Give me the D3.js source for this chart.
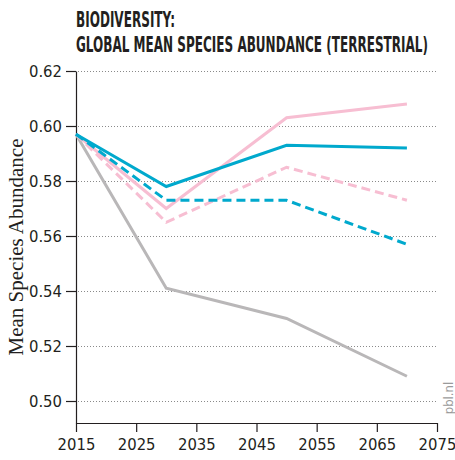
<!DOCTYPE html>
<html>
<head>
<meta charset="utf-8">
<script src="https://cdn.jsdelivr.net/npm/d3@7"></script>
<style>
  html, body { margin: 0; padding: 0; background: #fff; }
  svg { display: block; }
</style>
</head>
<body>
<svg id="chart" width="455" height="460"></svg>
<script>
// Scenario years and mean species abundance per scenario
const years = [2015, 2030, 2050, 2070];
const grayValues = [0.597, 0.541, 0.530, 0.509];
const pinkSolidValues = [0.597, 0.570, 0.603, 0.608];
const tealSolidValues = [0.597, 0.578, 0.593, 0.592];
const pinkDashedValues = [0.597, 0.565, 0.585, 0.573];
const tealDashedValues = [0.597, 0.573, 0.573, 0.557];

const xTicks = [2015, 2025, 2035, 2045, 2055, 2065, 2075];
const yTicks = [0.50, 0.52, 0.54, 0.56, 0.58, 0.60, 0.62];

const titleLines = ["BIODIVERSITY:", "GLOBAL MEAN SPECIES ABUNDANCE (TERRESTRIAL)"];
const yTitle = "Mean Species Abundance";
const credit = "pbl.nl";

const series = [
  { values: grayValues, color: "#b9b7b8", dash: null },
  { values: pinkSolidValues, color: "#f7bed2", dash: null },
  { values: pinkDashedValues, color: "#f7bed2", dash: "9,5" },
  { values: tealDashedValues, color: "#00a9cd", dash: "9,5" },
  { values: tealSolidValues, color: "#00a9cd", dash: null }
];

const svg = d3.select("#chart");
const margin = { left: 76, right: 18, top: 71, bottom: 37 };
const W = 455, H = 460;

const x = d3.scaleLinear().domain([2015, 2075]).range([margin.left, W - margin.right]);
const y = d3.scaleLinear().domain([0.492, 0.62]).range([H - margin.bottom, margin.top]);

const narrow = "'Liberation Sans Narrow', 'DejaVu Sans Condensed', sans-serif";

// Title: condensed bold caps, squeezed horizontally to the set widths
const titleSpec = [
  { text: titleLines[0], y: 27, width: 99 },
  { text: titleLines[1], y: 52, width: 352 }
];
titleSpec.forEach(t => {
  const g = svg.append("g");
  const txt = g.append("text")
    .attr("font-family", narrow)
    .attr("font-weight", "bold")
    .attr("font-size", 22)
    .attr("fill", "#231f20")
    .text(t.text);
  const natural = txt.node().getComputedTextLength();
  g.attr("transform", `translate(76,${t.y}) scale(${t.width / natural},1)`);
});

// Dotted gridlines
svg.append("g")
  .selectAll("line")
  .data(yTicks)
  .join("line")
  .attr("x1", x(2015) + 2)
  .attr("x2", x(2075))
  .attr("y1", d => Math.round(y(d)) + 0.5)
  .attr("y2", d => Math.round(y(d)) + 0.5)
  .attr("stroke", "#8a8a8a")
  .attr("stroke-width", 1)
  .attr("stroke-dasharray", "1,2");

// Axes
const yAxis = svg.append("g")
  .attr("transform", `translate(${margin.left},0)`)
  .call(d3.axisLeft(y).tickValues(yTicks).tickFormat(d3.format(".2f")).tickSize(10).tickSizeOuter(0).tickPadding(4));

const xAxis = svg.append("g")
  .attr("transform", `translate(0,${H - margin.bottom})`)
  .call(d3.axisBottom(x).tickValues(xTicks).tickFormat(d3.format("d")).tickSize(9).tickSizeOuter(0).tickPadding(6));

[yAxis, xAxis].forEach(g => {
  g.select(".domain").attr("stroke", "#231f20").attr("stroke-width", 1.2);
  g.selectAll(".tick line").attr("stroke", "#231f20").attr("stroke-width", 1.2);
  g.selectAll(".tick text")
    .attr("font-family", narrow)
    .attr("font-size", 16.5)
    .attr("fill", "#231f20");
});

// Y-axis title
svg.append("text")
  .attr("transform", `translate(23,${(margin.top + H - margin.bottom) / 2}) rotate(-90)`)
  .attr("text-anchor", "middle")
  .attr("font-family", "'Liberation Serif', 'DejaVu Serif', serif")
  .attr("font-size", 21)
  .attr("fill", "#231f20")
  .text(yTitle);

// Credit
svg.append("text")
  .attr("transform", `translate(453,398) rotate(-90)`)
  .attr("text-anchor", "middle")
  .attr("font-family", narrow)
  .attr("font-size", 13)
  .attr("fill", "#9a9a9a")
  .text(credit);

// Series lines
const line = d3.line()
  .x((d, i) => x(years[i]))
  .y(d => y(d));

svg.append("g")
  .selectAll("path")
  .data(series)
  .join("path")
  .attr("d", d => line(d.values))
  .attr("fill", "none")
  .attr("stroke", d => d.color)
  .attr("stroke-width", 3)
  .attr("stroke-dasharray", d => d.dash);
</script>
</body>
</html>
